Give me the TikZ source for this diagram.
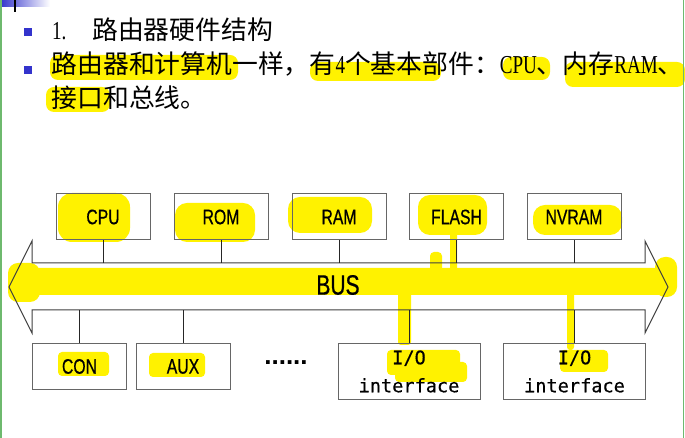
\documentclass[tikz,border=0pt]{standalone}
\usepackage{fontspec}
\usepackage{tikz}
\usetikzlibrary{arrows,shapes}
\usetikzlibrary{positioning}
\newfontfamily\cjk{Noto Sans CJK SC}
\newfontfamily\latinfont[FakeStretch=0.74]{Liberation Serif}
\newfontfamily\boxfont[FakeStretch=0.75,FakeBold=0.6]{Liberation Sans}
\newfontfamily\iofont[FakeBold=0.4]{DejaVu Sans Mono}
\newfontfamily\dotfont{Liberation Sans}
\definecolor{bulletblue}{RGB}{51,51,204}
\definecolor{edgegreen}{RGB}{110,185,110}
\tikzstyle{part} = [draw=black!60, line width=1pt, minimum width=94pt,
    minimum height=46pt, inner sep=0pt, font=\boxfont\fontsize{21}{24}\selectfont]
\tikzstyle{iopart} = [part, minimum width=142pt, minimum height=56pt,
    align=center, font=\iofont\fontsize{18.6}{28}\selectfont]
\tikzstyle{hl} = [fill=yellow, rounded corners=8pt]
\tikzstyle{wire} = [black!85, line width=1pt]
\tikzstyle{bulletsq} = [fill=bulletblue, minimum size=8pt, inner sep=0pt]
\tikzstyle{textline} = [anchor=west, inner sep=0pt, font=\cjk\fontsize{25.8}{30}\selectfont]

\begin{document}
\begin{tikzpicture}[x=1pt, y=1pt, auto]
  \useasboundingbox (0,0) rectangle (685,438);
  \fill [white] (0,0) rectangle (685,438);
  % yellow marker strokes
  \fill [hl] (50,383) rectangle (238,358);
  \fill [hl] (310,376) rectangle (441,357);
  \fill [hl] (503,381) rectangle (550,358);
  \fill [hl] (565,376) rectangle (685,351);
  \fill [hl] (46,351) rectangle (110,326);
  \fill [hl, rounded corners=14pt] (58,245) rectangle (130,196);
  \fill [hl, rounded corners=12pt] (175,235) rectangle (255,196);
  \fill [hl, rounded corners=12pt] (288,241) rectangle (372,205);
  \fill [hl, rounded corners=12pt] (418,243) rectangle (487,203);
  \fill [hl, rounded corners=2pt] (450,205) rectangle (457,166);
  \fill [hl, rounded corners=4pt] (430,186) rectangle (442,166);
  \fill [hl, rounded corners=12pt] (533,233) rectangle (622,203);
  \fill [hl, rounded corners=4pt] (10,170) rectangle (675,143);
  \fill [hl, rounded corners=10pt] (8,175) rectangle (40,136);
  \fill [hl, rounded corners=10pt] (655,181) rectangle (677,141);
  \fill [hl, rounded corners=3pt] (398,146) rectangle (411,93);
  \fill [hl, rounded corners=4pt] (387,88) rectangle (460,63);
  \fill [hl, rounded corners=4pt] (395,76) rectangle (467,56);
  \fill [hl, rounded corners=3pt] (567,146) rectangle (574,88);
  \fill [hl, rounded corners=4pt] (560,88) rectangle (608,66);
  \fill [hl, rounded corners=4pt] (58,86) rectangle (109,62);
  \fill [hl, rounded corners=4pt] (149,85) rectangle (205,61);
  % slide edges
  \shade [left color=bulletblue, right color=white] (0,438) rectangle (50,431);
  \draw [line width=1.5pt] (15,438) -- (15,426);
  \draw [edgegreen, line width=1.5pt] (1,0) -- (1,438);
  \draw [edgegreen, line width=1.5pt] (683.5,0) -- (683.5,438);
  % text
  \node [bulletsq] (b1) at (28,406) {};
  \node [textline] (t1) at (52,408) {{\latinfont\makebox[40pt][l]{1.}}路由器硬件结构};
  \node [bulletsq] (b2) at (28,368) {};
  \node [textline] (t2) at (51.5,374) {路由器和计算机一样，有{\latinfont 4}个基本部件：{\latinfont CPU}、内存{\latinfont RAM}、};
  \node [textline] (t3) at (51.5,340) {接口和总线。};
  % bus
  \coordinate (tipl) at (9,151);
  \coordinate (tipr) at (668,151);
  \coordinate (bt) at (32,175);
  \coordinate (bb) at (32,128);
  \draw [black!75, line width=1pt] (tipl) -- (32,197) -- (bt) -- (645,175) -- (645,197) -- (tipr)
    -- (645,105) -- (645,128) -- (bb) -- (32,105) -- cycle;
  \node [font=\boxfont\fontsize{28}{30}\selectfont] (bus) at (338,153) {BUS};
  % upper row
  \node [part] (c11) at (103,221) {CPU};
  \node [part, right of=c11, node distance=118pt] (c12) {ROM};
  \node [part, right of=c12, node distance=118pt] (c13) {RAM};
  \node [part, right of=c13, node distance=117.5pt] (c14) {FLASH};
  \node [part, right of=c14, node distance=117.5pt] (c15) {NVRAM};
  % lower row
  \node [part, anchor=north] (c21) at (79.5,95) {CON};
  \node [part, right of=c21, node distance=103.5pt] (c22) {AUX};
  \node [font=\dotfont\bfseries\fontsize{26}{30}\selectfont] (dots) at (286,75) {......};
  \node [iopart, anchor=north] (c23) at (409,95) {I/O\\interface};
  \node [iopart, right of=c23, node distance=165.5pt] (c24) {I/O\\interface};
  \draw [wire] (c11) -- (c11 |- bt);
  \draw [wire] (c12) -- (c12 |- bt);
  \draw [wire] (c13) -- (c13 |- bt);
  \draw [wire] (c14) -- (c14 |- bt);
  \draw [wire] (c15) -- (c15 |- bt);
  \draw [wire] (c21) -- (c21 |- bb);
  \draw [wire] (c22) -- (c22 |- bb);
  \draw [wire] (c23) -- (c23 |- bb);
  \draw [wire] (c24) -- (c24 |- bb);
\end{tikzpicture}
\end{document}
